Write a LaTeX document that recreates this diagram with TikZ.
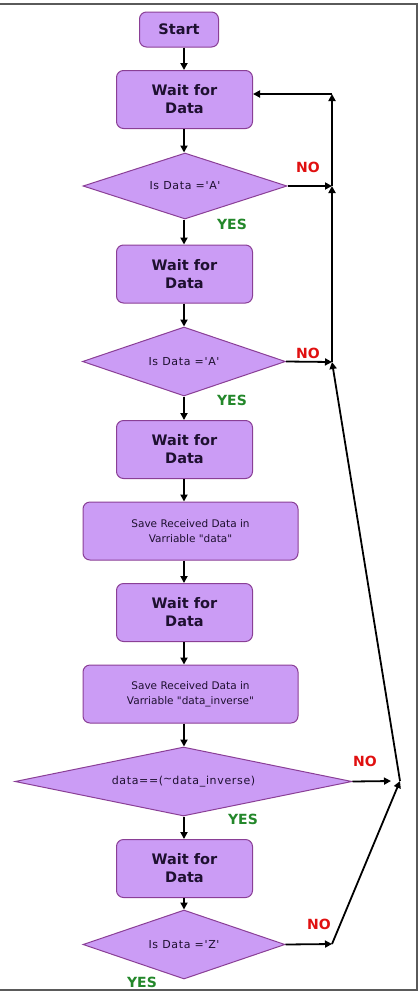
\documentclass[tikz,border=0pt]{standalone}
\usepackage{fontspec}
\setmainfont{DejaVu Sans}
\newfontfamily\testfont[LetterSpace=6]{DejaVu Sans}
\usetikzlibrary{arrows.meta,shapes.geometric}
\definecolor{boxfill}{HTML}{CB9CF5}
\definecolor{boxline}{HTML}{8A3F96}
\definecolor{boxtext}{HTML}{1E1030}
\definecolor{nored}{HTML}{E01010}
\definecolor{yesgreen}{HTML}{23872A}
\definecolor{frame}{HTML}{5A5A5A}

\begin{document}
\begin{tikzpicture}[x=1pt,y=-1pt,
  box/.style={draw=boxline,fill=boxfill,rounded corners=7pt,line width=1pt,
    align=center,inner sep=0pt,text=boxtext},
  waitbox/.style={box,minimum width=136pt,minimum height=58pt,
    font=\bfseries\fontsize{14.5}{18}\selectfont},
  savebox/.style={box,minimum width=215pt,minimum height=58pt,
    font=\fontsize{10.5}{15}\selectfont},
  test/.style={diamond,draw=boxline,fill=boxfill,line width=1pt,inner sep=0pt,
    shape aspect=3,text=boxtext,font=\testfont\fontsize{11}{13}\selectfont},
  flow/.style={line width=1.8pt,-{Triangle[length=7pt,width=7pt]}},
  back/.style={line width=1.8pt,-{Triangle[length=7pt,width=7pt]}},
  no/.style={font=\bfseries\fontsize{14}{14}\selectfont,text=nored},
  yes/.style={font=\bfseries\fontsize{14}{14}\selectfont,text=yesgreen}]
  \useasboundingbox (0,0) rectangle (420,994);
  % Frame
  \draw[frame,line width=1.8pt] (0,4) -- (417,4) -- (417,990) -- (0,990);
  % Main column
  \coordinate (axis) at (184,0);
  \node[box,minimum width=79pt,minimum height=35pt,
    font=\bfseries\fontsize{14.5}{16}\selectfont] (start) at (179,29.5) {Start};
  \node[waitbox] (wait1) at (184.5,99.5) {Wait for\\Data};
  \node[test,minimum width=204pt,minimum height=66pt] (dia1) at (185,186) {Is Data ='A'};
  \node[waitbox] (wait2) at (184.5,274) {Wait for\\Data};
  \node[test,minimum width=203pt,minimum height=69pt] (dia2) at (184,361.5) {Is Data ='A'};
  \node[waitbox] (wait3) at (184.5,449.5) {Wait for\\Data};
  \node[savebox] (save1) at (190.5,531) {Save Received Data in\\Varriable \textquotedbl data\textquotedbl};
  \node[waitbox] (wait4) at (184.5,612.5) {Wait for\\Data};
  \node[savebox] (save2) at (190.5,694) {Save Received Data in\\Varriable \textquotedbl data\_inverse\textquotedbl};
  \node[test,shape aspect=4.9,minimum width=337pt,minimum height=69pt] (dia3)
    at (183.5,781.5) {data==(\raisebox{0.3ex}{\textasciitilde}data\_inverse)};
  \node[waitbox] (wait5) at (184.5,868.5) {Wait for\\Data};
  \node[test,minimum width=202pt,minimum height=69pt] (dia4) at (184,944.5) {Is Data ='Z'};
  % Down arrows
  \foreach \a/\b in {start/wait1,wait1/dia1,dia1/wait2,wait2/dia2,dia2/wait3,
      wait3/save1,save1/wait4,wait4/save2,save2/dia3,dia3/wait5,wait5/dia4}
    \draw[flow] (\a.south -| axis) -- (\b.north -| axis);
  % Way back
  \coordinate (top) at (332,94);
  \coordinate (j1) at (332,186);
  \coordinate (j2) at (332,362);
  \coordinate (j3) at (400,781);
  \coordinate (j4) at (332,944);
  \draw[flow] (dia1.east) -- (j1);
  \draw[flow] (dia2.east) -- (j2);
  \draw[flow] (dia3.east) -- ([xshift=-9pt]j3);
  \draw[flow] (dia4.east) -- (j4);
  \draw[back] (j4) -- (j3);
  \draw[back] (j3) -- (j2);
  \draw[back,line width=2.3pt] (j2) -- (j1);
  \draw[back,line width=2.3pt] (j1) -- (top);
  \draw[flow] (top) -- (top -| wait1.east);
  % Labels
  \node[no] (no1) at (308,167) {NO};
  \node[no] (no2) at (308,353) {NO};
  \node[no] (no3) at (365,761) {NO};
  \node[no] (no4) at (319,924) {NO};
  \node[yes] (yes1) at (232,224) {YES};
  \node[yes] (yes2) at (232,400) {YES};
  \node[yes] (yes3) at (243,819) {YES};
  \node[yes] (yes4) at (142,982) {YES};
\end{tikzpicture}
\end{document}
